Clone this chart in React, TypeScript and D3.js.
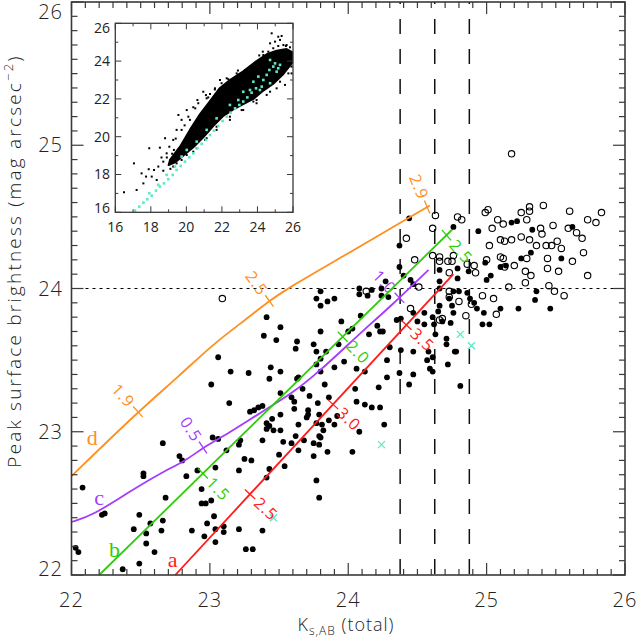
import * as d3 from "d3";

// ---- main panel data (K_s,AB total, peak surface brightness) ----
const detected: [number, number][] = [
  [22.03, 22.19], [22.05, 22.16], [22.08, 22.61], [22.22, 22.42], [22.24, 22.43], [22.49, 22.42], [22.45, 22.32],
  [22.57, 22.36], [22.54, 22.29], [22.66, 22.38], [22.65, 22.31], [22.54, 22.22], [22.6, 22.16], [22.49, 22.08],
  [22.37, 22.04], [22.68, 22.54], [22.52, 22.71], [22.52, 22.69], [22.66, 22.92], [22.78, 22.83], [22.8, 22.8],
  [22.83, 22.69], [22.91, 22.73], [22.94, 22.6], [22.94, 22.5], [22.97, 22.5], [23.01, 22.52], [23.03, 22.41],
  [22.98, 22.36], [22.96, 22.27], [23.04, 22.32], [23.1, 22.34], [23.1, 22.3], [23.04, 22.23], [22.87, 22.31],
  [23.01, 23.33], [23.06, 22.95], [23.04, 22.75], [23.14, 23.2], [23.15, 23.42], [23.28, 23.41], [23.12, 22.87],
  [23.21, 22.73], [23.22, 22.94], [23.25, 22.81], [23.3, 22.8], [23.26, 22.18], [23.31, 22.18], [23.21, 22.32],
  [23.38, 22.31], [23.41, 22.68], [23.38, 22.94], [23.43, 23.04], [23.41, 23.06], [23.41, 23.02], [23.46, 23.01],
  [23.51, 23.01], [23.53, 22.93], [23.54, 22.76], [23.5, 22.84], [23.59, 22.92], [23.64, 22.87], [23.61, 23.21],
  [23.61, 23.16], [23.59, 23.24], [23.44, 23.45], [23.51, 23.42], [23.43, 23.37], [23.51, 23.27], [23.63, 23.37],
  [23.64, 23.38], [23.67, 23.3], [23.71, 23.15], [23.71, 23.12], [23.64, 23.05], [23.78, 23.2], [23.79, 22.97],
  [23.77, 22.66], [23.79, 22.54], [23.79, 22.91],
  [23.41, 23.8], [23.39, 23.67], [23.48, 23.64], [23.51, 23.73], [23.06, 23.52], [23.29, 23.14], [23.32, 23.15],
  [23.35, 23.17], [23.38, 23.18], [23.21, 22.91], [23.02, 22.96], [23.68, 22.94], [23.62, 22.97], [23.51, 23.12],
  [23.72, 23.25], [23.7, 23.1], [23.77, 23.06], [23.81, 23.05], [23.82, 23.01], [23.86, 23.08], [23.9, 23.05],
  [23.92, 23.11], [23.85, 22.86], [23.75, 22.83], [23.86, 23.24], [23.83, 23.33], [23.8, 23.42], [23.77, 23.47],
  [23.8, 23.51], [23.77, 23.56], [23.84, 23.56], [23.93, 23.61], [23.97, 23.49], [23.9, 23.45], [24.06, 23.44],
  [24.12, 23.42], [24.05, 23.3], [24.06, 23.21], [24.17, 23.17], [24.23, 23.17], [24.08, 23.0], [24.03, 22.86],
  [23.95, 23.77], [24.0, 23.7], [24.03, 23.72], [24.09, 23.81], [24.15, 23.68], [24.21, 23.74], [23.63, 23.63],
  [23.62, 23.58], [23.75, 23.61], [23.8, 23.7], [23.77, 23.93], [23.8, 23.98], [23.8, 23.88], [23.85, 23.91],
  [23.9, 23.93], [24.08, 24.0], [24.08, 23.96], [24.14, 23.95],
  [23.79, 23.12], [23.45, 23.09], [23.8, 22.96], [23.75, 22.92], [23.43, 22.74], [24.12, 23.19], [24.26, 23.05],
  [24.81, 23.32], [24.72, 23.47], [24.77, 23.56], [24.71, 23.65], [24.59, 23.44], [24.57, 23.5], [24.61, 23.52],
  [24.47, 23.56], [24.44, 23.33], [24.28, 23.38], [24.22, 23.31],
  [24.44, 24.49], [24.37, 24.3], [24.76, 24.43], [24.94, 24.4], [25.18, 24.46], [25.22, 24.47], [25.33, 24.41],
  [25.62, 24.43], [25.32, 24.25], [25.25, 24.21], [25.14, 24.16], [25.1, 24.15], [25.54, 24.21], [24.79, 24.14],
  [24.87, 24.12], [24.99, 24.18], [25.03, 24.09], [25.0, 24.06], [24.66, 24.13], [24.79, 24.07], [24.37, 24.15],
  [24.4, 24.09], [24.27, 24.05], [24.24, 24.0], [24.17, 23.99], [24.24, 23.95], [24.29, 23.94], [24.45, 24.06],
  [24.47, 24.03], [24.66, 24.05], [24.66, 24.0], [24.76, 23.98], [24.8, 23.98], [24.73, 23.93], [24.86, 23.97],
  [24.88, 23.93], [24.66, 23.88], [24.75, 23.88], [24.76, 23.83], [24.93, 23.86], [24.91, 23.9], [24.98, 23.83],
  [24.97, 23.75], [25.02, 23.75], [25.1, 23.86], [25.23, 23.86], [25.35, 23.92], [25.36, 23.98], [25.46, 23.86],
  [24.35, 23.78], [24.38, 23.79], [24.47, 23.83], [24.5, 23.77], [24.55, 23.83], [24.61, 23.8], [24.65, 23.84],
  [24.55, 23.75], [24.62, 23.75], [24.68, 23.77], [24.63, 23.68], [24.74, 23.76], [24.23, 23.7], [24.25, 23.7],
  [24.3, 23.59], [24.38, 23.57], [24.58, 23.56], [24.71, 23.61], [24.78, 23.56], [24.28, 23.5], [24.37, 23.41],
  [24.47, 23.4], [24.61, 23.42],
];

const undetected: [number, number][] = [
  [25.18, 24.94], [24.99, 24.53], [25.01, 24.55], [24.79, 24.5], [24.82, 24.48], [24.63, 24.51], [24.61, 24.42],
  [24.42, 24.35], [24.61, 24.23], [24.66, 24.22], [24.66, 24.19], [24.72, 24.19], [24.75, 24.19], [24.76, 24.23],
  [24.73, 24.11], [24.86, 24.17], [24.91, 24.16], [24.92, 24.11], [24.48, 24.2], [24.51, 24.01], [24.13, 23.98],
  [24.45, 23.86], [24.89, 23.89], [24.85, 23.81], [24.73, 23.98], [24.73, 23.94], [24.68, 23.79], [24.66, 23.78],
  [24.97, 23.95], [25.05, 23.93], [25.07, 23.82], [25.16, 24.01], [25.28, 24.04], [25.45, 24.02], [25.49, 23.98],
  [25.56, 23.95], [25.52, 24.12], [25.44, 24.14], [25.44, 24.21], [25.29, 24.21], [25.28, 24.12], [25.32, 24.09],
  [25.1, 24.22], [25.12, 24.21], [25.13, 24.15], [25.2, 24.16], [25.0, 24.2], [25.02, 24.3], [25.1, 24.34],
  [25.13, 24.33], [25.18, 24.34], [25.25, 24.36], [25.31, 24.34], [25.36, 24.3], [25.43, 24.3], [25.47, 24.3],
  [25.51, 24.33], [25.54, 24.28], [25.62, 24.19], [25.7, 24.25], [25.73, 24.09], [25.69, 24.35], [25.65, 24.39],
  [25.59, 24.42], [25.6, 24.54], [25.48, 24.44], [25.39, 24.42], [25.4, 24.38], [25.41, 24.58], [25.31, 24.57],
  [25.31, 24.54], [25.25, 24.53], [25.29, 24.48], [25.12, 24.45], [25.08, 24.48], [25.04, 24.42], [25.73, 24.48],
  [25.79, 24.46], [25.83, 24.53], [23.09, 23.93], [24.8, 23.91],
];

const crosses: [number, number][] = [[24.24, 22.91], [23.46, 22.4], [24.81, 23.68], [24.89, 23.6]];

// model tracks a-d
const trackA: [number, number][] = [[22.75, 22.0], [24.76, 24.1]];
const trackB: [number, number][] = [[22.2, 22.0], [24.75, 24.41]];
const trackC: [number, number][] = [
  [22.0, 22.37], [22.16, 22.42], [22.4, 22.57], [22.64, 22.71], [22.83, 22.8], [22.95, 22.89], [23.12, 22.98],
  [23.36, 23.13], [23.6, 23.27], [23.8, 23.43], [23.99, 23.6], [24.1, 23.7], [24.3, 23.87], [24.58, 24.13],
];
const trackD: [number, number][] = [
  [22.0, 22.69], [22.48, 23.14], [22.78, 23.39], [23.02, 23.61], [23.27, 23.79], [23.41, 23.9], [23.56, 24.0],
  [23.92, 24.2], [24.59, 24.58],
];
const ticksA = [23.29, 23.89, 24.42];
const ticksB = [22.95, 23.96, 24.71];
const ticksC = [22.95, 24.37];
const ticksD = [22.48, 23.43, 24.57];
const labelsA = ["2.5", "3.0", "3.5"];
const labelsB = ["1.5", "2.0", "2.5"];
const labelsC = ["0.5", "1.0"];
const labelsD = ["1.9", "2.5", "2.9"];
const trackNames = ["a", "b", "c", "d"];
const trackNamePos: [number, number][] = [[22.73, 22.11], [22.31, 22.18], [22.2, 22.54], [22.15, 22.96]];
const limitsK = [24.375, 24.625, 24.875];
const limitSB = 24;

// ---- inset data ----
const insetCloud: [number, number][] = [
  [19.08, 18.77], [19.64, 19.47], [20.2, 20.36], [20.77, 21.2], [21.33, 21.88], [21.89, 22.58], [22.45, 23.0],
  [23.2, 23.46], [23.95, 24.0], [24.52, 24.36], [25.08, 24.55], [25.64, 24.64], [25.95, 24.48],
  [25.95, 23.9], [25.46, 23.32], [24.89, 22.8], [24.33, 22.44], [23.77, 22.0], [23.2, 21.72], [22.64, 21.45],
  [22.08, 21.1], [21.52, 20.58], [20.95, 19.97], [20.39, 19.44], [19.83, 19.0], [19.36, 18.64], [19.0, 18.5],
];
const insetStray: [number, number][] = [
  [16.49, 17.06], [17.05, 18.59], [17.2, 17.18], [17.48, 18.06], [17.58, 17.53], [17.73, 17.89], [17.88, 18.28],
  [17.91, 19.39], [18.05, 17.89], [18.18, 18.24], [18.33, 17.71], [18.42, 18.42], [18.51, 19.42], [18.7, 18.68],
  [18.8, 19.92], [18.89, 19.12], [19.04, 19.47], [19.26, 19.83], [19.55, 21.15], [19.73, 20.36], [20.02, 21.41],
  [20.2, 20.89], [20.62, 21.94], [20.95, 22.38], [21.23, 22.08], [21.89, 23.0], [22.36, 23.04], [22.92, 23.27],
  [23.67, 23.71], [24.8, 25.47], [25.17, 25.29], [25.36, 25.33], [24.71, 24.94], [24.99, 25.03], [25.46, 24.85],
  [25.27, 25.12], [25.55, 22.74], [23.77, 21.86], [23.95, 21.77], [23.2, 21.41], [22.45, 21.06], [21.7, 20.53],
  [21.14, 19.92], [20.58, 19.39], [20.02, 19.03], [19.45, 18.59], [24.52, 22.21], [25.08, 22.56], [25.92, 23.71],
  [25.92, 23.35], [18.6, 18.9], [19.2, 19.1], [19.9, 20.6], [20.5, 21.5], [21.6, 22.5], [22.9, 23.5], [24.3, 24.5],
  [25.6, 24.8], [24.1, 24.3], [21.1, 22.2], [19.4, 19.9],
  [19.45, 20.36], [19.73, 20.89], [20.11, 21.06], [20.39, 21.56], [20.67, 21.77], [21.14, 22.03], [21.33, 22.26],
  [21.61, 22.56], [21.98, 22.83], [22.27, 23.09], [22.83, 23.35], [23.3, 23.53], [23.58, 23.71], [24.14, 24.1],
  [24.33, 24.32], [24.61, 24.5], [24.89, 24.68], [25.17, 24.8], [25.64, 24.85], [25.83, 24.73],
  [19.26, 18.42], [19.73, 18.77], [20.39, 19.21], [21.05, 19.83], [21.7, 20.36], [22.45, 20.89], [23.11, 21.41],
  [23.95, 21.94], [24.71, 22.38], [25.27, 22.91], [25.74, 23.35], [18.9, 18.9], [19.1, 18.3], [19.3, 19.3],
  [18.7, 18.2],
];
const insetSpec: [number, number][] = [
  [17.11, 16.09], [17.35, 16.3], [17.58, 16.51], [17.8, 16.69], [18.05, 16.88], [18.29, 17.15], [18.51, 17.36],
  [18.74, 17.53], [18.98, 17.75], [19.23, 17.98], [19.45, 18.24], [19.68, 18.45], [19.92, 18.68], [20.17, 18.91],
  [20.39, 19.12], [20.62, 19.39], [20.86, 19.62], [21.1, 19.83], [21.33, 20.09], [21.55, 20.32], [21.8, 20.57],
  [22.04, 20.83], [22.27, 21.06], [22.49, 21.27], [22.74, 21.5], [22.98, 21.68], [23.2, 21.86], [23.43, 22.08],
  [23.67, 22.33], [23.92, 22.56], [23.2, 22.38], [23.77, 22.91], [24.05, 23.18], [24.33, 23.0], [24.52, 23.27],
  [24.67, 23.53], [24.89, 23.71], [25.08, 23.44], [25.27, 23.8], [24.99, 23.88], [24.71, 22.83], [24.24, 22.65],
  [23.58, 22.47], [22.92, 21.94], [22.45, 21.68], [21.7, 20.97], [21.14, 20.36], [20.58, 19.74], [20.02, 19.3],
  [19.73, 18.95], [19.36, 18.42], [18.89, 17.98], [18.42, 17.45], [17.91, 17.01], [24.71, 24.06], [25.17, 23.62],
  [24.14, 22.47],
];

const RED = "#ff1a1a";
const GREEN = "#2ecc0a";
const PURPLE = "#a23cff";
const ORANGE = "#ff8f1f";
const AQUA = "#5ee8c8";
const AXIS = "#3a3a3a";
const FONT = "'Open Sans', 'DejaVu Sans', sans-serif";

const x = d3.scaleLinear().domain([22, 26]).range([71.5, 625]);
const y = d3.scaleLinear().domain([22, 26]).range([575, 2]);
const ix = d3.scaleLinear().domain([16, 26]).range([115.3, 293]);
const iy = d3.scaleLinear().domain([16, 26]).range([212.3, 23.3]);

function yAt(pts: [number, number][], xv: number) {
  for (let i = 0; i < pts.length - 1; i++) {
    const [x0, y0] = pts[i];
    const [x1, y1] = pts[i + 1];
    if (xv >= x0 && xv <= x1) return y0 + ((y1 - y0) * (xv - x0)) / (x1 - x0);
  }
  return pts[pts.length - 1][1];
}

const Track = ({ pts, ticks, labels, color, side, smooth }: {
  pts: [number, number][]; ticks: number[]; labels: string[]; color: string; side: 1 | -1; smooth?: boolean;
}) => {
  const line = d3.line<[number, number]>().x((d) => x(d[0])).y((d) => y(d[1]))
    .curve(smooth ? d3.curveBasis : d3.curveLinear);
  return (
    <g>
      <path d={line(pts) ?? ""} fill="none" stroke={color} strokeWidth={1.8} />
      {ticks.map((tx, i) => {
        const px = x(tx), py = y(yAt(pts, tx));
        const dx = x(tx + 0.05) - x(tx - 0.05);
        const dy = y(yAt(pts, tx + 0.05)) - y(yAt(pts, tx - 0.05));
        const len = Math.hypot(dx, dy);
        const nx = -dy / len, ny = dx / len;
        const ang = (Math.atan2(ny, nx) * 180) / Math.PI;
        return (
          <g key={i}>
            <line x1={px - 7 * nx} y1={py - 7 * ny} x2={px + 7 * nx} y2={py + 7 * ny} stroke={color} strokeWidth={1.3} />
            <text transform={`translate(${px},${py}) rotate(${ang})`} x={side * 9} dy="0.35em"
              textAnchor={side > 0 ? "start" : "end"} fill={color} fontSize={16} fontFamily={FONT}
              letterSpacing={1}>
              {labels[i]}
            </text>
          </g>
        );
      })}
    </g>
  );
};

export default function App() {
  const xMinor = d3.range(22, 26.001, 0.1);
  const yMinor = d3.range(22, 26.001, 0.1);
  const majors = [22, 23, 24, 25, 26];
  const insetMajor = [16, 18, 20, 22, 24, 26];
  const insetMinor = d3.range(16, 26.001, 1);
  const cloud = d3.line<[number, number]>().x((d) => ix(d[0])).y((d) => iy(d[1])).curve(d3.curveLinearClosed);
  const trackColors = [RED, GREEN, PURPLE, ORANGE];

  return (
    <svg width={637} height={640} style={{ position: "absolute", left: 0, top: 0, background: "#fff" }}>
      {/* limits */}
      <line x1={x(22)} x2={x(26)} y1={y(limitSB)} y2={y(limitSB)} stroke="#000" strokeWidth={1} strokeDasharray="3,4" />
      {limitsK.map((k) => (
        <line key={k} x1={x(k)} x2={x(k)} y1={y(26)} y2={y(22)} stroke="#111" strokeWidth={1.5}
          strokeDasharray="15,15" strokeDashoffset={13} />
      ))}

      {/* galaxies */}
      {detected.map((d, i) => (
        <circle key={"f" + i} cx={x(d[0])} cy={y(d[1])} r={2.9} fill="#000" />
      ))}
      {undetected.map((d, i) => (
        <circle key={"o" + i} cx={x(d[0])} cy={y(d[1])} r={3.2} fill="none" stroke="#000" strokeWidth={1.1} />
      ))}
      {crosses.map((d, i) => (
        <g key={"c" + i} stroke={AQUA} strokeWidth={1.3}>
          <line x1={x(d[0]) - 3.5} x2={x(d[0]) + 3.5} y1={y(d[1]) - 3.5} y2={y(d[1]) + 3.5} />
          <line x1={x(d[0]) - 3.5} x2={x(d[0]) + 3.5} y1={y(d[1]) + 3.5} y2={y(d[1]) - 3.5} />
        </g>
      ))}

      {/* tracks */}
      <Track pts={trackD} ticks={ticksD} labels={labelsD} color={ORANGE} side={-1} smooth />
      <Track pts={trackC} ticks={ticksC} labels={labelsC} color={PURPLE} side={-1} smooth />
      <Track pts={trackB} ticks={ticksB} labels={labelsB} color={GREEN} side={1} />
      <Track pts={trackA} ticks={ticksA} labels={labelsA} color={RED} side={1} />
      {trackNames.map((n, i) => (
        <text key={n} x={x(trackNamePos[i][0])} y={y(trackNamePos[i][1])} dy="0.35em" textAnchor="middle"
          fill={trackColors[i]} fontSize={22} fontFamily="'Liberation Serif', serif">
          {n}
        </text>
      ))}

      {/* inset */}
      <rect x={ix(16)} y={iy(26)} width={ix(26) - ix(16)} height={iy(16) - iy(26)} fill="#fff" />
      <path d={cloud(insetCloud) ?? ""} fill="#000" stroke="#000" strokeWidth={2} strokeLinejoin="round" />
      {insetStray.map((d, i) => (
        <rect key={"s" + i} x={ix(d[0]) - 1} y={iy(d[1]) - 1} width={2} height={2} fill="#000" />
      ))}
      {insetSpec.map((d, i) => (
        <rect key={"q" + i} x={ix(d[0]) - 1.3} y={iy(d[1]) - 1.3} width={2.6} height={2.6} fill={AQUA} />
      ))}
      <rect x={ix(16)} y={iy(26)} width={ix(26) - ix(16)} height={iy(16) - iy(26)} fill="none" stroke={AXIS} strokeWidth={1.3} />
      <g stroke={AXIS} strokeWidth={1}>
        {insetMinor.map((v) => {
          const L = v % 2 === 0 ? 6 : 3;
          return (
            <g key={v}>
              <line x1={ix(v)} x2={ix(v)} y1={iy(16)} y2={iy(16) - L} />
              <line x1={ix(v)} x2={ix(v)} y1={iy(26)} y2={iy(26) + L} />
              <line x1={ix(16)} x2={ix(16) + L} y1={iy(v)} y2={iy(v)} />
              <line x1={ix(26)} x2={ix(26) - L} y1={iy(v)} y2={iy(v)} />
            </g>
          );
        })}
      </g>
      {insetMajor.map((v) => (
        <g key={"il" + v} fontSize={14} fontFamily={FONT} fill="#222">
          <text x={ix(v)} y={232} textAnchor="middle">{v}</text>
          <text x={110} y={Math.max(28, Math.min(208, iy(v)))} dy="0.35em" textAnchor="end">{v}</text>
        </g>
      ))}

      {/* main frame + ticks */}
      <rect x={x(22)} y={y(26)} width={x(26) - x(22)} height={y(22) - y(26)} fill="none" stroke={AXIS} strokeWidth={1.6} />
      <g stroke={AXIS} strokeWidth={1.2}>
        {xMinor.map((v, i) => {
          const L = i % 10 === 0 ? 12 : 6;
          return (
            <g key={"xt" + i}>
              <line x1={x(v)} x2={x(v)} y1={y(22)} y2={y(22) - L} />
              <line x1={x(v)} x2={x(v)} y1={y(26)} y2={y(26) + L} />
            </g>
          );
        })}
        {yMinor.map((v, i) => {
          const L = i % 10 === 0 ? 12 : 6;
          return (
            <g key={"yt" + i}>
              <line x1={x(22)} x2={x(22) + L} y1={y(v)} y2={y(v)} />
              <line x1={x(26)} x2={x(26) - L} y1={y(v)} y2={y(v)} />
            </g>
          );
        })}
      </g>
      {majors.map((v) => (
        <g key={"ml" + v} fontSize={20} fontFamily={FONT} fontWeight={300} fill="#222" letterSpacing={1}>
          <text x={x(v)} y={607} textAnchor="middle">{v}</text>
          <text x={63} y={Math.max(12, Math.min(569, y(v)))} dy="0.36em" textAnchor="end">{v}</text>
        </g>
      ))}

      {/* axis titles */}
      <text x={346} y={631} textAnchor="middle" fontSize={18} fontFamily={FONT} fontWeight={300} fill="#222" letterSpacing={1}>
        K<tspan fontSize={12} dy={4}>s,AB</tspan>
        <tspan dy={-4}> (total)</tspan>
      </text>
      <text transform="translate(21,261) rotate(-90)" textAnchor="middle" fontSize={19} fontFamily={FONT}
        fontWeight={300} fill="#222" letterSpacing={2.2}>
        Peak surface brightness (mag arcsec<tspan fontSize={13} dy={-8}>−2</tspan>
        <tspan dy={8}>)</tspan>
      </text>
    </svg>
  );
}
